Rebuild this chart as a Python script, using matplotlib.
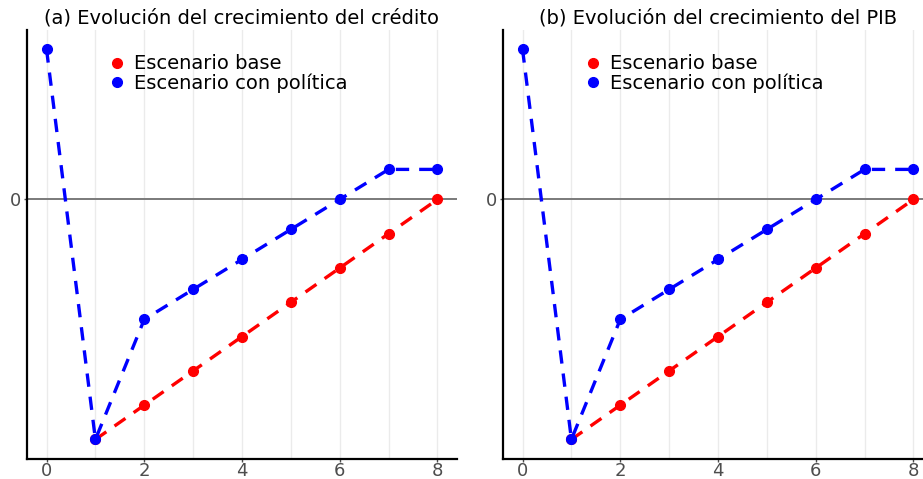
import matplotlib
matplotlib.use("Agg")
import matplotlib.pyplot as plt
from matplotlib.lines import Line2D

plt.rcParams['font.family'] = ['DejaVu Sans']

periods_base = [1, 2, 3, 4, 5, 6, 7, 8]
base = [-7, -6, -5, -4, -3, -2, -1, 0]
periods_pol = [0, 1, 2, 3, 4, 5, 6, 7, 8]
policy = [4.375, -7, -3.5, -2.625, -1.75, -0.875, 0, 0.875, 0.875]

titles = ["(a) Evolución del crecimiento del crédito",
          "(b) Evolución del crecimiento del PIB"]
labels = ["Escenario base", "Escenario con política"]
xticks = [0, 2, 4, 6, 8]
yticks = [0]

W, H = 923, 479
fig = plt.figure(figsize=(W / 100, H / 100), dpi=100)
lefts = [27, 503]
for i, lx in enumerate(lefts):
    ax = fig.add_axes([lx / W, 20 / H, 430 / W, 429 / H])
    ax.set_xlim(-0.4, 8.4)
    ax.set_ylim(-7.57, 4.94)
    for g in range(0, 9):
        ax.axvline(g, color='#ebebeb', lw=1.0, zorder=0)
    ax.axhline(0, color='#7a7a7a', lw=1.4, zorder=1)
    ax.plot(periods_base, base, color='#ff0000', lw=2.4, ls=(0, (4, 3)),
            marker='o', ms=7, zorder=3)
    ax.plot(periods_pol, policy, color='#0000ff', lw=2.4, ls=(0, (4, 3)),
            marker='o', ms=7, zorder=4)
    ax.set_xticks(xticks)
    ax.set_yticks(yticks)
    ax.tick_params(colors='#4d4d4d', labelsize=13, length=2, width=1, pad=0)
    ax.tick_params(axis='y', pad=2)
    for s in ['top', 'right']:
        ax.spines[s].set_visible(False)
    for s in ['left', 'bottom']:
        ax.spines[s].set_linewidth(1.6)
        ax.spines[s].set_color('black')
    ax.set_title(titles[i], fontsize=14, pad=5)
    handles = [Line2D([], [], color='#ff0000', marker='o', ls='none', ms=7),
               Line2D([], [], color='#0000ff', marker='o', ls='none', ms=7)]
    ax.legend(handles, labels, loc='upper left', bbox_to_anchor=(0.15, 0.975),
              frameon=False, fontsize=14, labelspacing=0.0,
              handletextpad=0.3, handlelength=1.2, borderpad=0.2)

fig.savefig("out.png", dpi=100)
